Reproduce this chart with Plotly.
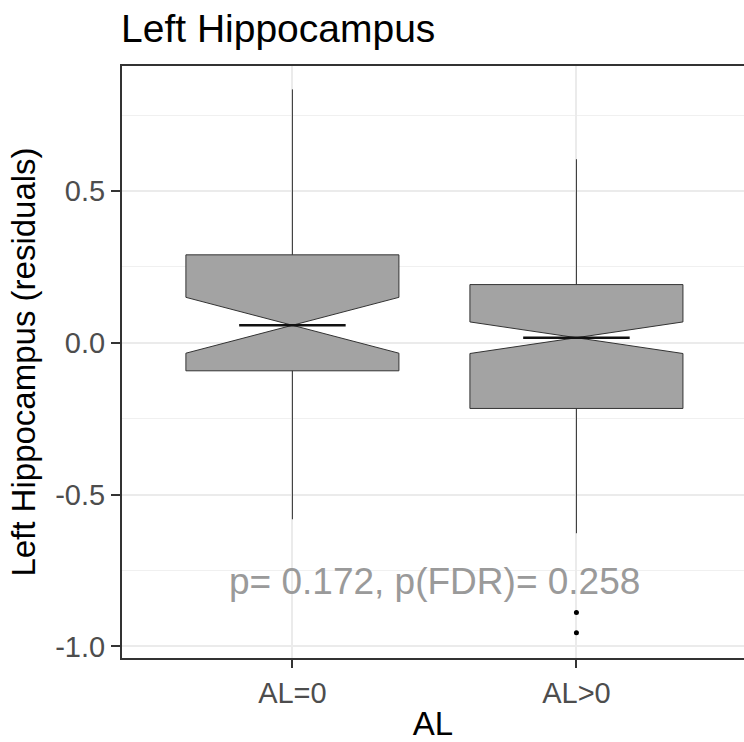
import plotly.graph_objects as go

# ---- data ----
categories = ["AL=0", "AL>0"]
positions = [0, 1]
q1 = [-0.092, -0.216]
median = [0.058, 0.017]
q3 = [0.290, 0.192]
lower_fence = [-0.581, -0.627]
upper_fence = [0.835, 0.605]
notch_span = [0.092, 0.052]
outlier_cat = [1, 1]
outlier_val = [-0.888, -0.955]
y_ticks = [-1.0, -0.5, 0.0, 0.5]
annotation_text = "p= 0.172, p(FDR)= 0.258"

FONT = "Liberation Sans, Arial, sans-serif"
BOXW = 0.75
NOTCHW = 0.5

fig = go.Figure()

fig.add_trace(go.Box(
    x=positions,
    q1=q1, median=median, q3=q3,
    lowerfence=lower_fence, upperfence=upper_fence,
    notchspan=notch_span,
    notched=True, notchwidth=NOTCHW,
    width=BOXW,
    whiskerwidth=0,
    fillcolor="#A3A3A3",
    line=dict(color="#333333", width=1),
    boxpoints=False,
    showlegend=False,
    hoverinfo="skip",
))

# thicker median segments (ggplot fatten), spanning the notch waist
half = BOXW / 2 * (1 - NOTCHW)
mx, my = [], []
for p, m in zip(positions, median):
    mx += [p - half, p + half, None]
    my += [m, m, None]
fig.add_trace(go.Scatter(x=mx, y=my, mode="lines",
                         line=dict(color="#111111", width=2.5),
                         showlegend=False, hoverinfo="skip"))

fig.add_trace(go.Scatter(x=[positions[i] for i in outlier_cat], y=outlier_val,
                         mode="markers", marker=dict(color="black", size=5),
                         showlegend=False, hoverinfo="skip"))

fig.add_annotation(x=0.5, y=-0.785, xref="x", yref="y", text=annotation_text,
                   showarrow=False, xanchor="center", yanchor="middle",
                   font=dict(family=FONT, size=37, color="#9A9A9A"))

fig.update_layout(
    width=744, height=742,
    margin=dict(l=121.5, r=0, t=66, b=84),
    paper_bgcolor="white", plot_bgcolor="white",
    boxmode="overlay",
    title=dict(text="Left Hippocampus", x=121 / 744, xanchor="left",
               xref="container", yref="container", y=1 - 28 / 742, yanchor="middle",
               font=dict(family=FONT, size=39, color="black")),
    font=dict(family=FONT),
)

fig.update_xaxes(
    range=[-0.6, 1.59],
    tickvals=positions, ticktext=categories,
    showgrid=True, gridcolor="#EBEBEB", gridwidth=2,
    showline=True, linecolor="#333333", linewidth=2, mirror=True,
    ticks="outside", ticklen=8, tickwidth=2, tickcolor="#333333",
    tickfont=dict(family=FONT, size=29, color="#4D4D4D"),
    title=dict(text="AL", font=dict(family=FONT, size=33, color="black"), standoff=8),
    zeroline=False,
)
fig.update_yaxes(
    range=[-1.038, 0.912],
    tickvals=y_ticks, ticktext=[f"{v:.1f}" for v in y_ticks],
    showgrid=True, gridcolor="#EBEBEB", gridwidth=2,
    minor=dict(dtick=0.25, tick0=0.25, showgrid=True, gridcolor="#F0F0F0", gridwidth=1),
    showline=True, linecolor="#333333", linewidth=2,
    ticks="outside", ticklen=9, tickwidth=2, tickcolor="#333333",
    tickfont=dict(family=FONT, size=29, color="#4D4D4D"),
    title=dict(text="Left Hippocampus (residuals)", font=dict(family=FONT, size=33, color="black"), standoff=10),
    zeroline=False,
)

fig.write_html("out.html")
